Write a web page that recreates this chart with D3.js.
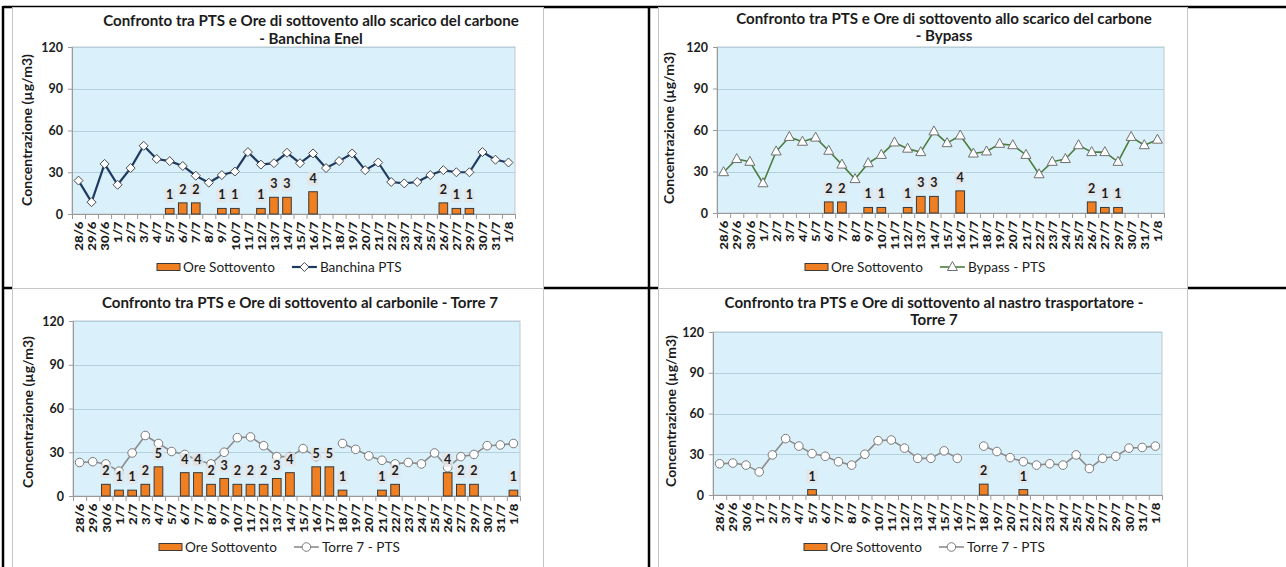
<!DOCTYPE html>
<html><head><meta charset="utf-8">
<script src="https://cdn.jsdelivr.net/npm/d3@7"></script>
<style>html,body{margin:0;padding:0;background:#fff;overflow:hidden}</style>
</head><body><svg id="c" width="1286" height="567"></svg>
<script>
// ---------- DATA ----------
const categories = ["28/6","29/6","30/6","1/7","2/7","3/7","4/7","5/7","6/7","7/7","8/7","9/7","10/7","11/7","12/7","13/7","14/7","15/7","16/7","17/7","18/7","19/7","20/7","21/7","22/7","23/7","24/7","25/7","26/7","27/7","29/7","30/7","31/7","1/8"];
const yTicks = [0, 30, 60, 90, 120];
const hoursMax = 30; // secondary scale for "Ore Sottovento"

const banchinaPTS = [24, 8.5, 36, 21, 33, 49, 39.5, 38, 34.5, 27.5, 22.5, 28, 30.5, 44.5, 35.5, 36.5, 44, 36.5, 43.5, 33, 38, 43.5, 31.5, 37, 23, 22, 23, 28, 31.5, 30, 30, 44.5, 39, 37];
const bypassPTS   = [29.5, 39, 37, 21.5, 44.5, 55, 51.5, 54.5, 45, 35, 24.5, 36, 42, 51, 46.5, 44, 59, 50.5, 56, 43, 44.5, 50, 49, 42, 28, 37, 39, 49, 44, 44, 37, 55, 49, 53];
const torre7PTS   = [23, 23.5, 22, 17, 29.5, 41.5, 36, 30.5, 28.5, 24.5, 22, 30, 40, 40.5, 34.5, 27, 27, 32.5, 27, null, 36, 32, 27.5, 24.5, 22, 23, 22, 29.5, 19.5, 27, 28.5, 34.5, 35, 36];

const oreBanchina  = [0,0,0,0,0,0,0,1,2,2,0,1,1,0,1,3,3,0,4,0,0,0,0,0,0,0,0,0,2,1,1,0,0,0];
const oreBypass    = [0,0,0,0,0,0,0,0,2,2,0,1,1,0,1,3,3,0,4,0,0,0,0,0,0,0,0,0,2,1,1,0,0,0];
const oreCarbonile = [0,0,2,1,1,2,5,0,4,4,2,3,2,2,2,3,4,0,5,5,1,0,0,1,2,0,0,0,4,2,2,0,0,1];
const oreNastro    = [0,0,0,0,0,0,0,1,0,0,0,0,0,0,0,0,0,0,0,0,2,0,0,1,0,0,0,0,0,0,0,0,0,0];

const titles = [
  ["Confronto tra PTS e Ore di sottovento allo scarico del carbone", "- Banchina Enel"],
  ["Confronto tra PTS e Ore di sottovento allo scarico del carbone", "- Bypass"],
  ["Confronto tra PTS e Ore di sottovento al carbonile - Torre 7"],
  ["Confronto tra PTS e Ore di sottovento al nastro trasportatore -", "Torre 7"]
];
const yTitle = "Concentrazione (µg/m3)";
const barName = "Ore Sottovento";
const lineNames = ["Banchina PTS", "Bypass - PTS", "Torre 7 - PTS", "Torre 7 - PTS"];

// ---------- DRAWING ----------
const FONT = "Lato, 'Open Sans', 'DejaVu Sans', sans-serif";
const svg = d3.select("#c");
const TXT = "#1c1c1c";

function measure(text, size, weight) {
  const t = svg.append("text").attr("font-family", FONT).attr("font-size", size).attr("font-weight", weight).text(text);
  const w = t.node().getComputedTextLength(); t.remove(); return w;
}
const titleFS = 14 * 416 / measure(titles[0][0], 14, "bold");
const yTitleFS = 12 * 152 / measure(yTitle, 12, "bold");
const legendFS = 13 * 92 / measure(barName, 13, "normal");

// table lines
const tbl = svg.append("g").attr("stroke", "#000").attr("stroke-width", 2.5);
[[3,7,1286,7],[3,288,1286,288],[3,6,3,567],[649,6,649,567]].forEach(l =>
  tbl.append("line").attr("x1", l[0]).attr("y1", l[1]).attr("x2", l[2]).attr("y2", l[3]));

const panels = [
  {box:[12,7,543,288], plot:[72,515,47,214], tx:311, ty:[21,39], yt:[27,130], leg:[157,267],
   values:banchinaPTS, hours:oreBanchina, color:"#1f3a60", lw:2.2, marker:"diamond", mstroke:"#4a4a4a"},
  {box:[658,7,1187,288], plot:[717,1164,47,213], tx:944, ty:[19,36], yt:[669,128], leg:[805,267],
   values:bypassPTS, hours:oreBypass, color:"#4b7d3b", lw:1.6, marker:"triangle", mstroke:"#707070"},
  {box:[12,288,543,567], plot:[73,520,321,496], tx:300, ty:[303], yt:[28,412], leg:[159,547],
   values:torre7PTS, hours:oreCarbonile, color:"#8c8c8c", lw:1.6, marker:"circle", mstroke:"#7a7a7a"},
  {box:[658,288,1187,567], plot:[713,1162,332,495], tx:934, ty:[303,320], yt:[671,411], leg:[804,547],
   values:torre7PTS, hours:oreNastro, color:"#8c8c8c", lw:1.6, marker:"circle", mstroke:"#7a7a7a"}
];

function markerPath(type) {
  if (type === "diamond") return "M0,-4.5L4.5,0L0,4.5L-4.5,0Z";
  if (type === "triangle") return "M0,-5.5L5,3.5L-5,3.5Z";
  return d3.symbol(d3.symbolCircle, 58)();
}

panels.forEach((p, pi) => {
  const g = svg.append("g");
  const [bx0, by0, bx1, by1] = p.box;
  g.append("rect").attr("x", bx0 + 0.5).attr("y", by0 + 0.5).attr("width", bx1 - bx0).attr("height", by1 - by0)
    .attr("fill", "#fff").attr("stroke", "#c6c6c6");

  const [px0, px1, pyTop, pyBot] = p.plot;
  const y = d3.scaleLinear().domain([0, 120]).range([pyBot, pyTop]);
  const yHours = d3.scaleLinear().domain([0, hoursMax]).range([pyBot, pyTop]);
  const xBand = d3.scaleBand().domain(categories).range([px0, px1]).paddingInner(0.34).paddingOuter(0.17);
  const xPt = d3.scalePoint().domain(categories).range([px0, px1]).padding(0.5);
  const xEdge = d3.scaleLinear().domain([0, categories.length]).range([px0, px1]);

  // titles
  titles[pi].forEach((t, li) => {
    g.append("text").attr("x", p.tx).attr("y", p.ty[li]).attr("dy", "0.36em").attr("text-anchor", "middle")
      .attr("font-family", FONT).attr("font-weight", "bold").attr("font-size", titleFS).attr("fill", TXT).text(t);
  });

  // plot background
  g.append("rect").attr("x", px0).attr("y", pyTop).attr("width", px1 - px0).attr("height", pyBot - pyTop)
    .attr("fill", "#daf0fb").attr("stroke", "#c2c8cc").attr("stroke-width", 1);
  // grid
  g.append("g").selectAll("line").data(yTicks.filter(v => v > 0)).join("line")
    .attr("x1", px0).attr("x2", px1).attr("y1", d => Math.round(y(d)) + 0.5).attr("y2", d => Math.round(y(d)) + 0.5)
    .attr("stroke", "#b5d0dd").attr("stroke-width", 1);

  // y axis
  const ya = g.append("g").attr("transform", `translate(${px0},0)`)
    .call(d3.axisLeft(y).tickValues(yTicks).tickSize(4).tickPadding(5));
  ya.selectAll("path,line").attr("stroke", "#9a9a9a");
  ya.selectAll("text").attr("font-family", FONT).attr("font-weight", "bold").attr("font-size", 12.5).attr("fill", TXT);

  // x axis: boundary ticks
  const xe = g.append("g").attr("transform", `translate(0,${pyBot})`)
    .call(d3.axisBottom(xEdge).tickValues(d3.range(categories.length + 1)).tickSize(5).tickSizeOuter(0).tickFormat(""));
  xe.selectAll("path,line").attr("stroke", "#9a9a9a");
  // x axis labels
  const xa = g.append("g").attr("transform", `translate(0,${pyBot})`)
    .call(d3.axisBottom(xPt).tickSize(0).tickPadding(0));
  xa.select(".domain").remove();
  xa.selectAll("text").attr("transform", "rotate(-90) scale(1.15,1)").attr("text-anchor", "end")
    .attr("x", -6.5).attr("y", 0).attr("dy", "0.36em")
    .attr("font-family", FONT).attr("font-weight", "900").attr("font-size", 11.5).attr("fill", TXT);

  // y title
  g.append("text").attr("transform", `translate(${p.yt[0]},${p.yt[1]}) rotate(-90)`)
    .attr("text-anchor", "middle").attr("dy", "0.36em")
    .attr("font-family", FONT).attr("font-weight", "bold").attr("font-size", yTitleFS).attr("fill", TXT).text(yTitle);

  // bars
  const barData = categories.map((c, i) => ({ c, h: p.hours[i] })).filter(d => d.h > 0);
  g.append("g").selectAll("rect").data(barData).join("rect")
    .attr("x", d => xBand(d.c)).attr("width", xBand.bandwidth())
    .attr("y", d => yHours(d.h)).attr("height", d => pyBot - yHours(d.h))
    .attr("fill", "#f07f22").attr("stroke", "#3a3a3a").attr("stroke-width", 1);

  // line
  const pts = categories.map((c, i) => ({ c, v: p.values[i] }));
  const line = d3.line().defined(d => d.v != null).x(d => xPt(d.c)).y(d => y(d.v));
  g.append("path").datum(pts).attr("d", line).attr("fill", "none")
    .attr("stroke", p.color).attr("stroke-width", p.lw).attr("stroke-linejoin", "round");
  g.append("g").selectAll("path").data(pts.filter(d => d.v != null)).join("path")
    .attr("transform", d => `translate(${xPt(d.c)},${y(d.v)})`)
    .attr("d", markerPath(p.marker)).attr("fill", "#fff").attr("stroke", p.mstroke).attr("stroke-width", 1);

  // bar labels
  const lab = g.append("g").selectAll("g").data(barData).join("g")
    .attr("transform", d => `translate(${xPt(d.c)},${yHours(d.h) - 9})`);
  lab.append("rect").attr("x", -5.5).attr("y", -11).attr("width", 11).attr("height", 14).attr("rx", 2)
    .attr("fill", "#e3e5e7").attr("opacity", 0.85);
  lab.append("text").attr("text-anchor", "middle").attr("font-family", FONT).attr("font-weight", "bold")
    .attr("font-size", 12.5).attr("fill", TXT).text(d => d.h);

  // legend
  const [lx, ly] = p.leg;
  const lg = g.append("g");
  lg.append("rect").attr("x", lx).attr("y", ly - 3.5).attr("width", 23).attr("height", 7)
    .attr("fill", "#f07f22").attr("stroke", "#3a3a3a");
  const t1 = lg.append("text").attr("x", lx + 26).attr("y", ly).attr("dy", "0.36em")
    .attr("font-family", FONT).attr("font-size", legendFS).attr("fill", TXT).text(barName);
  const lx2 = lx + 26 + t1.node().getComputedTextLength() + 17;
  lg.append("line").attr("x1", lx2).attr("x2", lx2 + 25).attr("y1", ly).attr("y2", ly)
    .attr("stroke", p.color).attr("stroke-width", p.lw);
  lg.append("path").attr("transform", `translate(${lx2 + 12.5},${ly})`).attr("d", markerPath(p.marker))
    .attr("fill", "#fff").attr("stroke", p.mstroke);
  lg.append("text").attr("x", lx2 + 28).attr("y", ly).attr("dy", "0.36em")
    .attr("font-family", FONT).attr("font-size", legendFS).attr("fill", TXT).text(lineNames[pi]);
});
</script>
</body></html>
